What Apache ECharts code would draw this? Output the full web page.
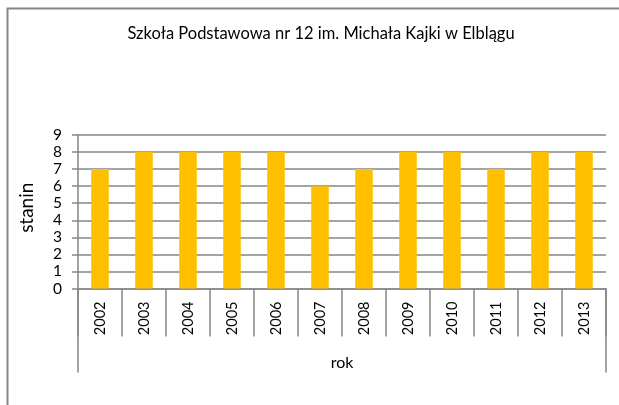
<!DOCTYPE html>
<html><head><meta charset="utf-8">
<script src="https://cdn.jsdelivr.net/npm/echarts@6/dist/echarts.min.js"></script>
<style>html,body{margin:0;padding:0;background:#fff}#c{width:619px;height:405px}</style>
</head><body><div id="c"></div>
<script>
const title = 'Szkoła Podstawowa nr 12 im. Michała Kajki w Elblągu';
const categories = ['2002','2003','2004','2005','2006','2007','2008','2009','2010','2011','2012','2013'];
const values = [7,8,8,8,8,6,7,8,8,7,8,8];
const yTicks = {min:0, max:9, interval:1};
const xName = 'rok';
const yName = 'stanin';

const FONT = 'Lato';
const GRAY = '#868686';
const chart = echarts.init(document.getElementById('c'), null, {renderer:'canvas'});
chart.setOption({
  animation:false,
  textStyle:{fontFamily:FONT},
  title:{text:title, left:316, top:20, textAlign:'center',
    textStyle:{fontFamily:FONT, fontSize:16.5, fontWeight:'normal', color:'#000'}},
  grid:{left:78, right:13, top:135, bottom:116.5, containLabel:false},
  xAxis:{type:'category', data:categories,
    name:xName, nameLocation:'middle', nameGap:66,
    nameTextStyle:{fontFamily:FONT, fontSize:16, color:'#000'},
    axisLine:{lineStyle:{color:GRAY, width:1.5}},
    axisTick:{show:true, length:48, lineStyle:{color:GRAY, width:1.5}},
    axisLabel:{rotate:90, fontSize:14.5, color:'#000', margin:13, fontFamily:FONT}},
  yAxis:{type:'value', min:yTicks.min, max:yTicks.max, interval:yTicks.interval,
    name:yName, nameLocation:'middle', nameGap:42, nameRotate:90,
    nameTextStyle:{fontFamily:FONT, fontSize:19, color:'#000', padding:[0,0,0,8]},
    axisLine:{show:true, lineStyle:{color:GRAY, width:1.5}},
    axisTick:{show:true, length:6, lineStyle:{color:GRAY, width:1.5}},
    splitLine:{lineStyle:{color:GRAY, width:1.5}},
    axisLabel:{fontSize:15.5, color:'#000', margin:16, fontFamily:FONT}},
  series:[{type:'bar', data:values, barWidth:'40%', itemStyle:{color:'#FFC000'}}]
});
const grid = chart.getModel().getComponent('grid').coordinateSystem.getRect();
const yb = grid.y + grid.height;
chart.setOption({graphic:[
  {type:'rect', silent:true, shape:{x:7.5, y:8.5, width:700, height:500}, style:{fill:null, stroke:GRAY, lineWidth:2}},
  {type:'line', silent:true, shape:{x1:grid.x, y1:yb, x2:grid.x, y2:yb+84}, style:{stroke:GRAY, lineWidth:1.5}},
  {type:'line', silent:true, shape:{x1:grid.x+grid.width, y1:yb, x2:grid.x+grid.width, y2:yb+84}, style:{stroke:GRAY, lineWidth:1.5}}
]});
</script></body></html>
